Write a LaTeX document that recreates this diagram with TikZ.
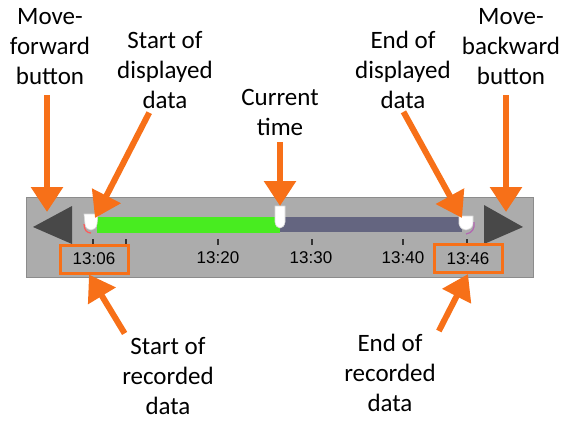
\documentclass[tikz,border=0pt]{standalone}
\usepackage{fontspec}
\setmainfont{Carlito}
\newfontfamily\tickfont{Liberation Sans}
\usetikzlibrary{positioning, arrows.meta, calc}
\definecolor{calloutorange}{RGB}{247, 112, 24}
\definecolor{panelgray}{RGB}{172, 172, 172}
\definecolor{panelrim}{RGB}{140, 140, 140}
\definecolor{btndark}{RGB}{72, 72, 72}
\definecolor{shownlime}{RGB}{72, 236, 32}
\definecolor{restslate}{RGB}{100, 101, 128}
\tikzset{
  lbl/.style={align=center, font=\fontsize{25}{30}\selectfont, inner sep=2pt},
  ticklbl/.style={font=\tickfont\fontsize{17}{20}\selectfont, inner sep=0pt},
  stampbox/.style={draw=calloutorange, line width=3pt,
                   minimum width=68pt, minimum height=28pt},
  callout/.style={draw=calloutorange, line width=6pt,
                  -{Triangle[width=31pt, length=25pt]}},
  tickmark/.style={line width=1.3pt, black!80},
  knob/.style={fill=white, draw=black!15, line width=0.6pt},
}

\begin{document}
\begin{tikzpicture}[x=1pt, y=-1pt]
  \useasboundingbox (0, 0) rectangle (569, 421);
  % control panel
  \draw[fill=panelgray, draw=panelrim, line width=1pt] (26, 197) rectangle (533, 277);
  % move buttons
  \fill[btndark] (33, 227) -- (72, 206) -- (72, 244) -- cycle;
  \fill[btndark] (523, 227) -- (484, 205) -- (484, 244) -- cycle;
  % data bar
  \fill[shownlime] (97, 217) rectangle (280, 233);
  \fill[restslate] (280, 217) rectangle (462, 232);
  % handles
  \draw[knob] (84, 214) -- (98, 214) -- (97, 224)
    .. controls (96, 232) and (86, 232) .. (85, 224) -- cycle;
  \draw[red!65, line width=1.2pt] (84, 224) .. controls (84, 230) and (87, 233) .. (91, 233);
  \draw[knob] (275, 206) -- (285, 206) -- (285, 222)
    .. controls (284, 230) and (276, 230) .. (275, 222) -- cycle;
  \draw[knob] (459, 216) -- (473, 216) -- (473, 224)
    .. controls (471, 232) and (461, 232) .. (459, 224) -- cycle;
  \draw[blue!50!red!60, line width=1.2pt] (474, 222) .. controls (475, 229) and (472, 233) .. (466, 234);
  % ticks
  \foreach \tx in {93, 126, 218, 312, 403, 467}
    \draw[tickmark] (\tx, 239) -- (\tx, 245);
  % time stamps
  \node[ticklbl, stampbox] (t06) at (94, 259) {13:06};
  \node[ticklbl] (t20) at (218, 258) {13:20};
  \node[ticklbl] (t30) at (311, 258) {13:30};
  \node[ticklbl] (t40) at (403, 258) {13:40};
  \node[ticklbl, stampbox] (t46) at (468, 258.5) {13:46};
  % labels
  \node[lbl] (fwdlbl) at (50, 47) {Move-\\forward\\button};
  \node[lbl] (sdlbl) at (165, 70) {Start of\\displayed\\data};
  \node[lbl] (curlbl) at (280, 112) {Current\\time};
  \node[lbl] (edlbl) at (403, 70) {End of\\displayed\\data};
  \node[lbl] (bwdlbl) at (511, 47) {Move-\\backward\\button};
  \node[lbl] (srlbl) at (168, 376) {Start of\\recorded\\data};
  \node[lbl] (erlbl) at (390, 373) {End of\\recorded\\data};
  % arrow tips
  \coordinate (fwdtip) at (47, 212);
  \coordinate (sdtip) at (95, 218);
  \coordinate (curtip) at (280, 206);
  \coordinate (edtip) at (462, 218);
  \coordinate (bwdtip) at (506, 212);
  % callouts
  \draw[callout, shorten <=8pt] (fwdlbl.south -| fwdtip) -- (fwdtip);
  \draw[callout, shorten <=2pt] (sdlbl.250) -- (sdtip);
  \draw[callout, shorten <=5pt] (curlbl.south) -- (curtip);
  \draw[callout, shorten <=1pt] (edlbl.south) -- (edtip);
  \draw[callout, shorten <=8pt] (bwdlbl.south -| bwdtip) -- (bwdtip);
  \draw[callout, shorten <=2pt] (srlbl.136) -- ([xshift=-5pt]t06.south);
  \draw[callout, shorten <=2pt] (erlbl.40) -- (t46.south);
\end{tikzpicture}
\end{document}
